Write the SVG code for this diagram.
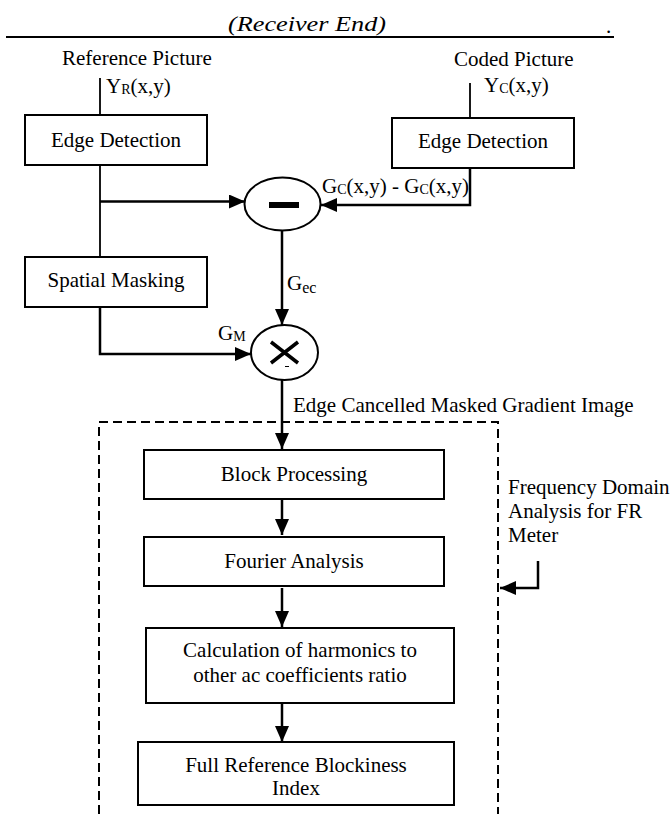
<svg xmlns="http://www.w3.org/2000/svg" width="672" height="814" viewBox="0 0 672 814">
<defs>
<marker id="ah" viewBox="0 0 16 14" refX="16" refY="7" markerWidth="16" markerHeight="14" markerUnits="userSpaceOnUse" orient="auto">
<path d="M0,0 L16,7 L0,14 z" fill="#000"/>
</marker>
<style>
text{font-family:"Liberation Serif","Times New Roman",serif;font-size:21px;fill:#000}
.c{text-anchor:middle}
.box{fill:#fff;stroke:#000;stroke-width:2}
.ln{fill:none;stroke:#000;stroke-width:2.5}
.thin{fill:none;stroke:#000;stroke-width:1.8}
.arr{fill:none;stroke:#000;stroke-width:2.5;marker-end:url(#ah)}
.dash{fill:none;stroke:#000;stroke-width:2;stroke-dasharray:9 5}
.sub{font-size:14px}
</style>
</defs>
<rect width="672" height="814" fill="#fff"/>

<g id="header">
<text x="228" y="31" font-style="italic" font-size="25" textLength="158" lengthAdjust="spacingAndGlyphs">(Receiver End)</text>
<line x1="6" y1="37" x2="614" y2="37" stroke="#000" stroke-width="2"/>
<text x="606" y="33">.</text>
</g>

<g id="frame">
<path class="dash" d="M99,814 V422 H498 V814"/>
</g>

<g id="connectors">
<line class="thin" x1="100" y1="78" x2="100" y2="115"/>
<line class="thin" x1="470" y1="83" x2="470" y2="118"/>
<line class="thin" x1="100" y1="165" x2="100" y2="257"/>
<path class="arr" d="M100,201.5 H245"/>
<path class="arr" d="M470,168 V205 H321"/>
<path class="arr" d="M282,231 V325"/>
<path class="arr" d="M100,307 V354 H251"/>
<path class="arr" d="M282,380 V449"/>
<path class="arr" d="M282,499 V535"/>
<path class="arr" d="M282,588 V627"/>
<path class="arr" d="M282,703 V742"/>
<path class="arr" d="M538,561 V588 H500"/>
</g>

<g id="ref-input">
<text x="62" y="65">Reference Picture</text>
<text x="106" y="93">Y<tspan class="sub" dy="1">R</tspan><tspan dy="-1">(x,y)</tspan></text>
</g>

<g id="coded-input">
<text x="454" y="66">Coded Picture</text>
<text x="484" y="92">Y<tspan class="sub" dy="1">C</tspan><tspan dy="-1">(x,y)</tspan></text>
</g>

<g id="edge-ref">
<rect class="box" x="25" y="115" width="182" height="50"/>
<text class="c" x="116" y="147">Edge Detection</text>
</g>

<g id="edge-coded">
<rect class="box" x="392" y="118" width="182" height="50"/>
<text class="c" x="483" y="148">Edge Detection</text>
</g>

<g id="diff-label">
<text x="322" y="193">G<tspan class="sub" dy="1">C</tspan><tspan dy="-1">(x,y) - G</tspan><tspan class="sub" dy="1">C</tspan><tspan dy="-1">(x,y)</tspan></text>
</g>

<g id="minus">
<ellipse class="box" cx="282.5" cy="204" rx="38" ry="26.5"/>
<rect x="269" y="202" width="30" height="6" fill="#000"/>
</g>

<g id="gec-label">
<text x="287" y="290" font-size="25">G<tspan font-size="16" dy="3">ec</tspan></text>
</g>

<g id="spatial-masking">
<rect class="box" x="25" y="257" width="182" height="50"/>
<text class="c" x="116" y="287">Spatial Masking</text>
</g>

<g id="gm-label">
<text x="218" y="340">G<tspan class="sub" dy="1">M</tspan></text>
</g>

<g id="multiply">
<ellipse class="box" cx="284.5" cy="352.5" rx="33.5" ry="27.5"/>
<path d="M271,342 L298,363 M298,342 L271,363" stroke="#000" stroke-width="3.5" fill="none"/>
<line x1="285" y1="366.5" x2="289" y2="366.5" stroke="#000" stroke-width="1"/>
</g>

<g id="ecmg-label">
<text x="293" y="412">Edge Cancelled Masked Gradient Image</text>
</g>

<g id="block-processing">
<rect class="box" x="144" y="450" width="300" height="49"/>
<text class="c" x="294" y="481">Block Processing</text>
</g>

<g id="fourier">
<rect class="box" x="144" y="537" width="300" height="49"/>
<text class="c" x="294" y="568">Fourier Analysis</text>
</g>

<g id="harmonics">
<rect class="box" x="146" y="628" width="308" height="75"/>
<text class="c" x="300" y="657">Calculation of harmonics to</text>
<text class="c" x="300" y="682">other ac coefficients ratio</text>
</g>

<g id="fr-index">
<rect class="box" x="138" y="742" width="316" height="63"/>
<text class="c" x="296" y="772">Full Reference Blockiness</text>
<text class="c" x="296" y="795">Index</text>
</g>

<g id="freq-label">
<text x="508" y="494">Frequency Domain</text>
<text x="508" y="518">Analysis for FR</text>
<text x="508" y="542">Meter</text>
</g>
</svg>
